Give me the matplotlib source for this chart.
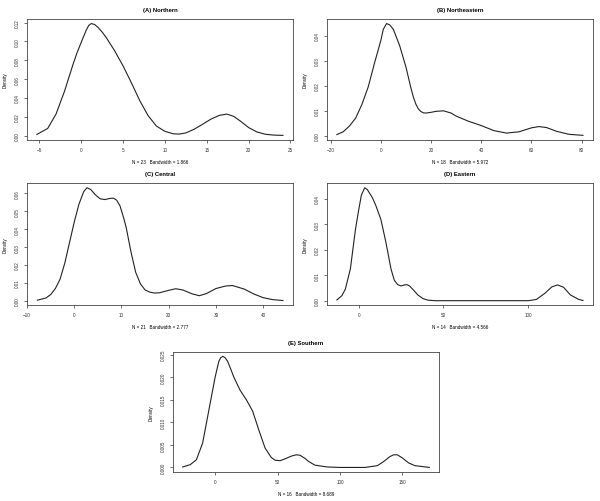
#!/usr/bin/env python3
# coding=utf-8

import matplotlib.pyplot as plt

plt.rcParams['font.family'] = ['Liberation Sans', 'DejaVu Sans']

# (A) Northern
a_x = [-5.3, -4, -3, -2, -1, -0.5, 0, 0.6, 0.9, 1.2, 1.6, 2, 2.5, 3, 4, 5, 6, 7,
       8, 9, 10, 11, 11.7, 12.5, 13.5, 14.5, 15.5, 16.5, 17.4, 18.2, 19, 20, 21,
       22, 23, 24.1]
a_y = [0.0012, 0.0076, 0.023, 0.047, 0.075, 0.088, 0.099, 0.112, 0.117, 0.119,
       0.118, 0.115, 0.110, 0.104, 0.090, 0.074, 0.056, 0.037, 0.021, 0.010,
       0.0045, 0.0019, 0.0016, 0.0028, 0.0068, 0.0120, 0.0175, 0.0215, 0.0228,
       0.0205, 0.0155, 0.0085, 0.0038, 0.0014, 0.0005, 0.0002]
a_ticks_x = [-5, 0, 5, 10, 15, 20, 25]
a_ticks_y = [0.00, 0.02, 0.04, 0.06, 0.08, 0.10, 0.12]

# (B) Northeastern
b_x = [-17.5, -15, -12.5, -10, -7.5, -5, -2.5, 0, 1, 2.3, 3.5, 5, 7.5, 10, 12,
       13, 14, 15, 16, 17, 18, 20, 22, 25, 28, 30, 35, 40, 45, 50, 55, 60, 63,
       66, 70, 75, 80.5]
b_y = [0.0004, 0.0015, 0.0038, 0.0070, 0.0125, 0.0195, 0.0290, 0.0380, 0.0425,
       0.0448, 0.0443, 0.0425, 0.0360, 0.0275, 0.0190, 0.0153, 0.0125, 0.0106,
       0.0096, 0.0091, 0.0090, 0.0093, 0.0097, 0.0099, 0.0090, 0.0078, 0.0057,
       0.0040, 0.0020, 0.0010, 0.0015, 0.0031, 0.0036, 0.0032, 0.0017, 0.0005,
       0.0001]
b_ticks_x = [-20, 0, 20, 40, 60, 80]
b_ticks_y = [0.00, 0.01, 0.02, 0.03, 0.04]

# (C) Central
c_x = [-7.8, -6, -5, -4, -3, -2, -1, 0, 1, 2, 2.7, 3.5, 4.5, 5.5, 6.5, 7.5, 8.3,
       9, 9.7, 10.5, 11, 12, 13, 14, 15, 16, 17, 18, 20, 21.5, 23, 25, 26.5, 28,
       30, 32, 33.5, 36, 38, 40, 42, 44.2]
c_y = [0.0003, 0.0015, 0.0034, 0.0068, 0.0120, 0.0210, 0.0325, 0.0440, 0.0540,
       0.0610, 0.0632, 0.0622, 0.0592, 0.0570, 0.0566, 0.0572, 0.0574, 0.0562,
       0.0530, 0.0460, 0.0410, 0.0275, 0.0160, 0.0095, 0.0060, 0.0048, 0.0043,
       0.0044, 0.0058, 0.0067, 0.0060, 0.0038, 0.0028, 0.0040, 0.0068, 0.0082,
       0.0085, 0.0065, 0.0038, 0.0017, 0.0006, 0.0001]
c_ticks_x = [-10, 0, 10, 20, 30, 40]
c_ticks_y = [0.00, 0.01, 0.02, 0.03, 0.04, 0.05, 0.06]

# (D) Eastern
d_x = [-13, -10, -8, -5, -2, 0, 1.5, 3.5, 5, 8, 10, 13, 16, 19, 21, 23, 25, 27,
       28.5, 30, 32, 35, 38, 41, 45, 100, 105, 110, 114, 117.5, 121, 125, 130,
       132.5]
d_y = [0.0003, 0.0020, 0.0045, 0.0125, 0.0280, 0.0360, 0.0415, 0.0444, 0.0437,
       0.0405, 0.0375, 0.0320, 0.0230, 0.0125, 0.0080, 0.0063, 0.0058, 0.0062,
       0.0063, 0.0058, 0.0044, 0.0022, 0.0008, 0.0002, 0.0000, 0.0000, 0.0005,
       0.0029, 0.0054, 0.0062, 0.0053, 0.0023, 0.0005, 0.0001]
d_ticks_x = [0, 50, 100]
d_ticks_y = [0.00, 0.01, 0.02, 0.03, 0.04]

# (E) Southern
e_x = [-26, -20, -15, -10, -5, 0, 3, 4.5, 6.2, 8, 10, 12.5, 15, 20, 25, 30, 35,
       40, 45, 48, 52, 56, 61, 65, 68, 72, 75, 80, 90, 100, 120, 130, 135, 140,
       143, 146, 150, 155, 160, 171.6]
e_y = [0.0001, 0.0006, 0.0017, 0.0054, 0.0127, 0.0200, 0.0235, 0.0243, 0.0246,
       0.0243, 0.0235, 0.0218, 0.0200, 0.0171, 0.0150, 0.0125, 0.0083, 0.0043,
       0.0022, 0.0016, 0.0015, 0.0019, 0.0025, 0.0028, 0.0027, 0.0020, 0.0013,
       0.0005, 0.0001, 0.0000, 0.0000, 0.0004, 0.0013, 0.0024, 0.0028, 0.0028,
       0.0021, 0.0010, 0.0004, 0.0000]
e_ticks_x = [0, 50, 100, 150]
e_ticks_y = [0.000, 0.005, 0.010, 0.015, 0.020, 0.025]

titles = ['(A) Northern', '(B) Northeastern', '(C) Central', '(D) Eastern',
          '(E) Southern']
notes = ['N = 23   Bandwidth = 1.866', 'N = 18   Bandwidth = 5.972',
         'N = 21   Bandwidth = 2.777', 'N = 14   Bandwidth = 4.566',
         'N = 16   Bandwidth = 8.689']


def panel(fig, rect, x, y, title, note, xt, yt, yfmt):
    """ Tegner ett R-lignende tetthetsplott. """
    ax = fig.add_axes(rect)
    ax.plot(x, y, color='#222222', lw=0.8, solid_joinstyle='round')
    pad_x = (x[-1] - x[0]) * 0.04
    ymax = max(y)
    ax.set_xlim(x[0] - pad_x, x[-1] + pad_x)
    ax.set_ylim(-ymax * 0.04, ymax * 1.04)
    ax.set_xticks(xt)
    ax.set_yticks(yt)
    ax.set_yticklabels([yfmt % v for v in yt], rotation=90, va='center')
    ax.tick_params(direction='out', length=2.5, width=0.5, labelsize=3.3,
                   pad=2.5, colors='#333333')
    for s in ax.spines.values():
        s.set_linewidth(0.6)
        s.set_color('#444444')
    ax.set_title(title, fontsize=4.2, fontweight='bold', pad=6)
    ax.set_xlabel(note, fontsize=3.3, labelpad=5)
    ax.set_ylabel('Density', fontsize=3.3, labelpad=5)
    return ax


fig = plt.figure(figsize=(6, 5.02), dpi=100)
panel(fig, [0.045, 0.719, 0.443, 0.241], a_x, a_y, titles[0], notes[0],
      a_ticks_x, a_ticks_y, '%.2f')
panel(fig, [0.545, 0.719, 0.443, 0.241], b_x, b_y, titles[1], notes[1],
      b_ticks_x, b_ticks_y, '%.2f')
panel(fig, [0.045, 0.390, 0.443, 0.243], c_x, c_y, titles[2], notes[2],
      c_ticks_x, c_ticks_y, '%.2f')
panel(fig, [0.545, 0.390, 0.443, 0.243], d_x, d_y, titles[3], notes[3],
      d_ticks_x, d_ticks_y, '%.2f')
panel(fig, [0.288, 0.058, 0.444, 0.239], e_x, e_y, titles[4], notes[4],
      e_ticks_x, e_ticks_y, '%.3f')
fig.savefig('out.png', dpi=100)
